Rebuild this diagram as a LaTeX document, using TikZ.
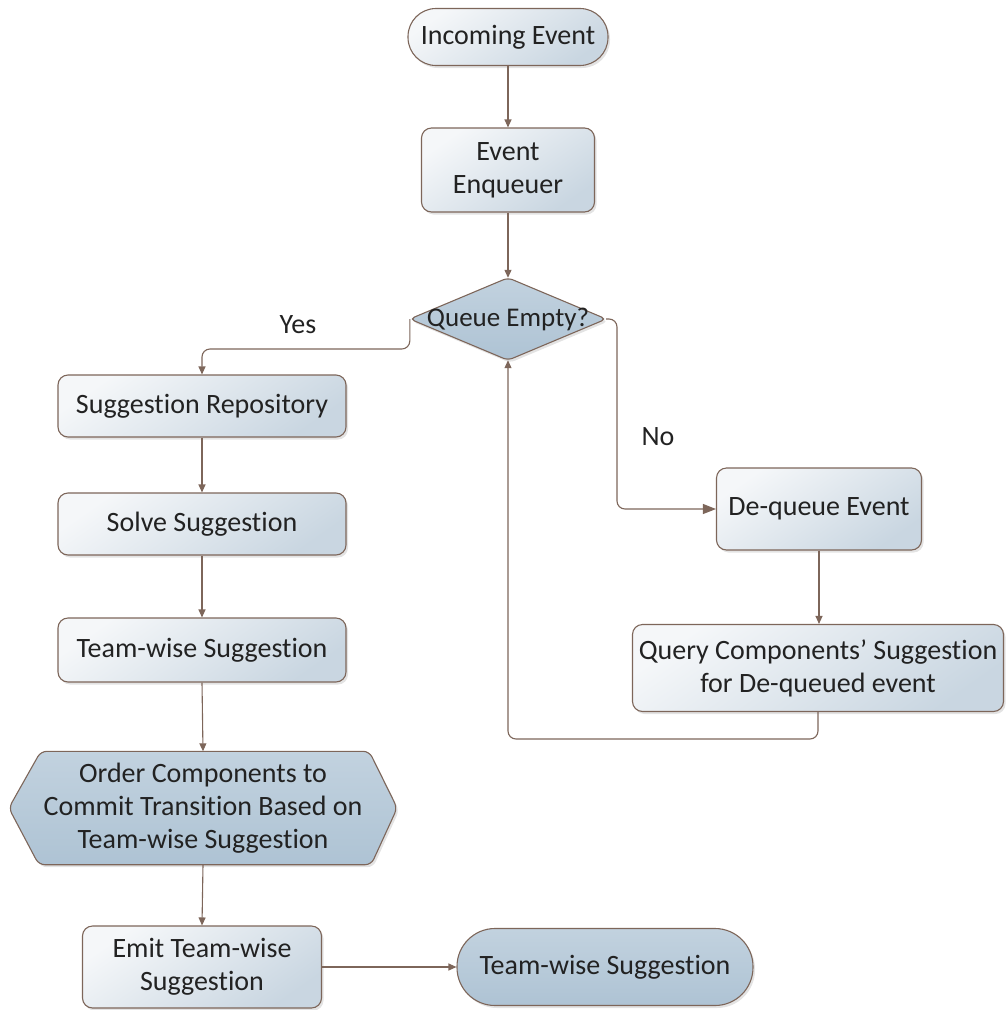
\documentclass[tikz,border=0pt]{standalone}
\usepackage{fontspec}
\setmainfont{Carlito}[Ligatures={NoCommon,NoRequired,NoContextual,NoRare},RawFeature={-clig}]
\usetikzlibrary{arrows.meta,shadows,backgrounds}
\definecolor{edgebrown}{HTML}{7D665A}
\definecolor{lightA}{HTML}{F5F7F9}
\definecolor{lightB}{HTML}{C9D6E1}
\definecolor{darkA}{HTML}{C2D2DF}
\definecolor{darkB}{HTML}{AEC3D4}
\definecolor{txt}{HTML}{222222}
\tikzset{
  base/.style={draw=edgebrown, line width=1.1pt, text=txt, align=center, inner sep=0pt,
    drop shadow={opacity=0.22, shadow xshift=2pt, shadow yshift=-2.5pt}},
  lightbox/.style={base, rounded corners=10pt, top color=lightA, bottom color=lightB, shading angle=35},
  darkshape/.style={base, top color=darkA, bottom color=darkB},
  holder/.style={draw=none, fill=none, text=txt, align=center, inner sep=0pt},
  lbl/.style={text=txt, inner sep=0pt},
  conn/.style={draw=edgebrown, line width=1.1pt, rounded corners=8pt, -{Triangle[length=8pt,width=7pt]}},
  bigconn/.style={conn, -{Triangle[length=13pt,width=10pt]}},
}
\begin{document}
\begin{tikzpicture}[x=1pt,y=-1pt,font=\fontsize{28}{33}\selectfont]
\useasboundingbox (0,0) rectangle (1005,1010);
% nodes
\node[base, top color=lightA, bottom color=lightB, shading angle=35, rounded corners=28pt,
      minimum width=200pt, minimum height=57pt] (inc) at (508,37) {Incoming Event};
\node[lightbox, minimum width=173pt, minimum height=84pt] (enq) at (508,170) {Event\\Enqueuer};
\node[holder, minimum width=196pt, minimum height=82pt, font=\fontsize{27}{32}\selectfont] (qe) at (508,319) {Queue Empty?};
\node[lightbox, minimum width=288pt, minimum height=62pt] (repo) at (202,406) {Suggestion Repository};
\node[lightbox, minimum width=288pt, minimum height=62pt] (solve) at (202,524) {Solve Suggestion};
\node[lightbox, minimum width=288pt, minimum height=64pt] (team) at (202,650) {Team-wise Suggestion};
\node[holder, minimum width=388pt, minimum height=113pt] (hex) at (203,808)
  {Order Components to\\Commit Transition Based on\\Team-wise Suggestion};
\node[lightbox, minimum width=239pt, minimum height=82pt] (emit) at (202,967) {Emit Team-wise\\Suggestion};
\node[darkshape, rounded corners=38pt, minimum width=296pt, minimum height=77pt] (term) at (605,967) {Team-wise Suggestion};
\node[lightbox, minimum width=205pt, minimum height=82pt] (deq) at (819,509) {De-queue Event};
\node[lightbox, minimum width=371pt, minimum height=87pt] (query) at (818,668)
  {Query Components’ Suggestion\\for De-queued event};
% background shapes for diamond and hexagon
\begin{scope}[on background layer]
\path[darkshape, rounded corners=5pt] (qe.west) -- (qe.north) -- (qe.east) -- (qe.south) -- cycle;
\path[darkshape, rounded corners=6pt] (hex.west) -- ([xshift=32pt]hex.north west) -- ([xshift=-28pt]hex.north east)
  -- (hex.east) -- ([xshift=-26pt]hex.south east) -- ([xshift=30pt]hex.south west) -- cycle;
\end{scope}
% labels
\node[lbl] (yes) at (298,325) {Yes};
\node[lbl] (no) at (658,437) {No};
% bend coordinates
\coordinate (ybend) at (202,349);
\coordinate (nbend) at (617,319);
\coordinate (lbend) at (660,739);
% connectors
\draw[conn] (inc.south) -- (enq.north);
\draw[conn] (enq.south) -- (qe.north);
\draw[conn] (qe.west) |- (ybend) -- (repo.north);
\draw[bigconn] (qe.east) -- (nbend) |- (deq.west);
\draw[conn] (deq.south) -- (deq.south |- query.north);
\draw[conn] (query.south) |- (lbend) -| (qe.south);
\draw[conn] (repo.south) -- (solve.north);
\draw[conn] (solve.south) -- (team.north);
\draw[conn] (team.south) -- (hex.north);
\draw[conn] (hex.south) -- (emit.north);
\draw[conn] (emit.east) -- (term.west);
\end{tikzpicture}
\end{document}
